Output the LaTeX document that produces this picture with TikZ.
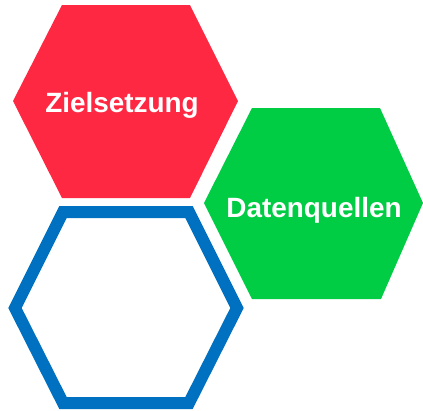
\documentclass[tikz,border=0pt]{standalone}
\usepackage{fontspec}
\setmainfont{Liberation Sans}
\definecolor{hexred}{RGB}{255,40,66}
\definecolor{hexgreen}{RGB}{0,204,68}
\definecolor{hexblue}{RGB}{0,112,192}
\begin{document}
\begin{tikzpicture}[x=1bp,y=-1bp,
  lbl/.style={text=white,font=\fontsize{28}{30}\selectfont\bfseries,anchor=base,inner sep=0pt}]
\useasboundingbox (0,0) rectangle (423,411);
% red hexagon
\fill[hexred] (13,101) -- (62,5) -- (190,5) -- (238,101) -- (190,198) -- (62,198) -- cycle;
% green hexagon
\fill[hexgreen] (204,203) -- (252,108) -- (380,108) -- (423,203) -- (381,299) -- (252,299) -- cycle;
% blue outline hexagon
\draw[hexblue,line width=12bp,line join=miter] (15,308) -- (63,212) -- (189,212) -- (237,308) -- (189,403) -- (63,403) -- cycle;
\node[lbl] (ziel) at (122,112) {Zielsetzung};
\node[lbl] (daten) at (314,217) {Datenquellen};
\end{tikzpicture}
\end{document}
